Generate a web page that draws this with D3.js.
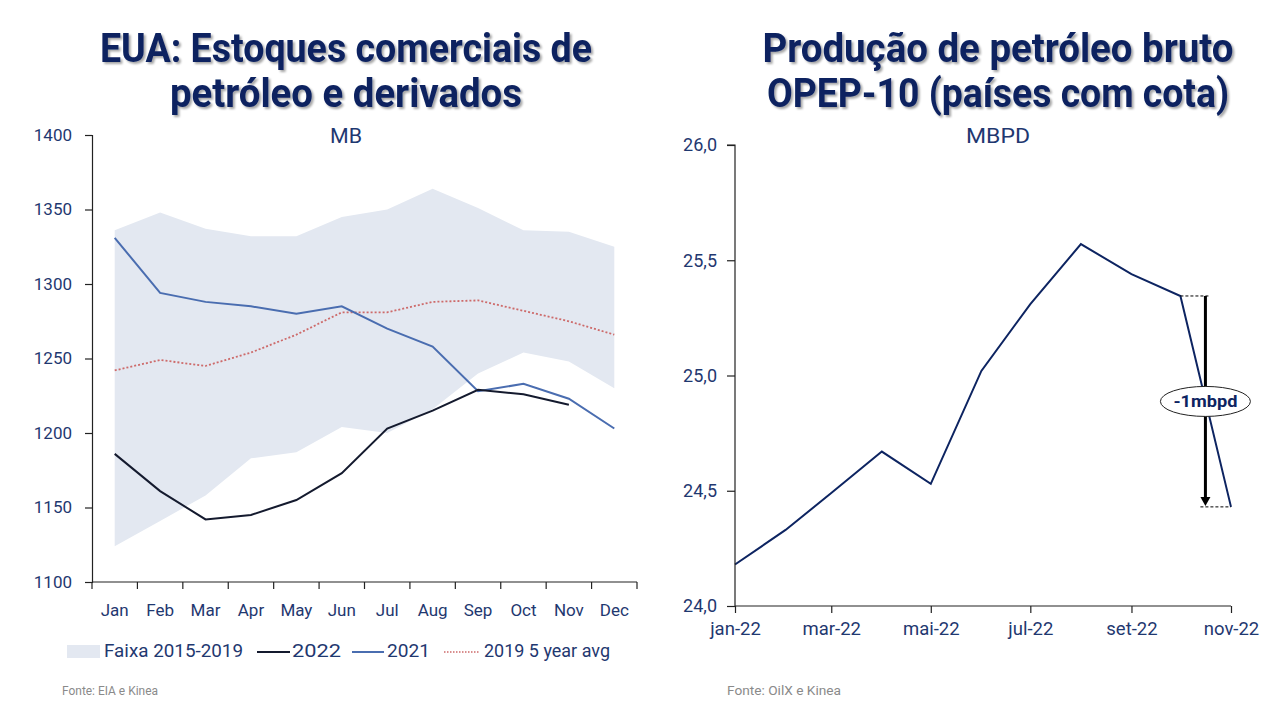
<!DOCTYPE html>
<html><head><meta charset="utf-8">
<script src="https://cdn.jsdelivr.net/npm/d3@7"></script>
<style>
html,body{margin:0;padding:0;background:#fff;}
svg{display:block;font-family:Roboto,"Open Sans",sans-serif;}
</style></head>
<body>
<svg id="c" width="1280" height="720"></svg>
<script>
// ---------- Data: left chart ----------
const months = ["Jan","Feb","Mar","Apr","May","Jun","Jul","Aug","Sep","Oct","Nov","Dec"];
const bandHigh = [1336,1348,1337,1332,1332,1345,1350,1364,1351,1336,1335,1325];
const bandLow  = [1124,1141,1158,1183,1187,1204,1200,1216,1240,1254,1248,1230];
const s2022    = [1186,1161,1142,1145,1155,1173,1203,1215,1229,1226,1219];
const s2021    = [1331,1294,1288,1285,1280,1285,1270,1258,1228,1233,1223,1203];
const avg5y    = [1242,1249,1245,1254,1266,1281,1281,1288,1289,1282,1275,1266];
const leftYTicks = [1100,1150,1200,1250,1300,1350,1400];

// ---------- Data: right chart ----------
const prodDates = ["2022-01","2022-02","2022-03","2022-04","2022-05","2022-06","2022-07","2022-08","2022-09","2022-10","2022-11"];
const prodVals  = [24.18,24.33,24.49,24.67,24.53,25.02,25.31,25.57,25.44,25.345,24.43];
const rightYTicks = [24.0,24.5,25.0,25.5,26.0];
const rightXTicks = ["2022-01","2022-03","2022-05","2022-07","2022-09","2022-11"];
const ptMonths = ["jan","fev","mar","abr","mai","jun","jul","ago","set","out","nov","dez"];

const NAVY = "#0d2461";
const TXT = "#1f3870";
const svg = d3.select("#c");

// shadow filter for titles
const defs = svg.append("defs");
const f = defs.append("filter").attr("id","sh").attr("x","-10%").attr("y","-10%").attr("width","120%").attr("height","140%");
f.append("feDropShadow").attr("dx",2).attr("dy",2).attr("stdDeviation",1.2).attr("flood-color","#000").attr("flood-opacity",0.35);

function title(lines, cx, widths){
  lines.forEach((t,i)=>{
    svg.append("text").attr("x",cx).attr("y",62+i*45).attr("text-anchor","middle")
      .attr("font-size",40).attr("font-weight",700).attr("fill",NAVY)
      .attr("textLength",widths[i]).attr("lengthAdjust","spacingAndGlyphs")
      .attr("filter","url(#sh)").text(t);
  });
}
title(["EUA: Estoques comerciais de","petróleo e derivados"],346,[492,352]);
title(["Produção de petróleo bruto","OPEP-10 (países com cota)"],998,[471,462]);

// ---------- Left chart ----------
const L = {x0:92, x1:637, y0:135, y1:582};
const xb = d3.scaleBand().domain(months).range([L.x0,L.x1]).paddingInner(0).paddingOuter(0);
const xc = m => xb(m)+xb.bandwidth()/2;
const yl = d3.scaleLinear().domain([1100,1400]).range([L.y1,L.y0]);

const gL = svg.append("g");
gL.append("path").datum(months.map((m,i)=>({m,lo:bandLow[i],hi:bandHigh[i]})))
  .attr("fill","#e3e8f1")
  .attr("d",d3.area().x(d=>xc(d.m)).y0(d=>yl(d.lo)).y1(d=>yl(d.hi)));

const line = d3.line().x(d=>xc(d.m)).y(d=>yl(d.v));
const toPts = arr => arr.map((v,i)=>({m:months[i],v}));
gL.append("path").datum(toPts(avg5y)).attr("fill","none").attr("stroke","#cd6a6a")
  .attr("stroke-width",1.8).attr("stroke-dasharray","2,2").attr("d",line);
gL.append("path").datum(toPts(s2021)).attr("fill","none").attr("stroke","#4a6db0")
  .attr("stroke-width",2).attr("d",line);
gL.append("path").datum(toPts(s2022)).attr("fill","none").attr("stroke","#141a2e")
  .attr("stroke-width",2).attr("d",line);

// axes
const axL = gL.append("g").attr("transform",`translate(${L.x0},0)`)
  .call(d3.axisLeft(yl).tickValues(leftYTicks).tickSize(7).tickPadding(13).tickFormat(d3.format("d")));
const axB = gL.append("g").attr("transform",`translate(0,${L.y1})`)
  .call(d3.axisBottom(xb).tickSize(0).tickPadding(22));
// boundary ticks for band axis
gL.append("g").selectAll("line").data(d3.range(13)).join("line")
  .attr("x1",i=>L.x0+i*xb.bandwidth()).attr("x2",i=>L.x0+i*xb.bandwidth())
  .attr("y1",L.y1).attr("y2",L.y1+7).attr("stroke","#222").attr("stroke-width",1.2);
[axL,axB].forEach(a=>{
  a.select(".domain").attr("stroke","#222").attr("stroke-width",1.2);
  a.selectAll(".tick line").attr("stroke","#222").attr("stroke-width",1.2);
  a.selectAll("text").attr("fill",TXT).attr("font-size",17).attr("font-family","Roboto,sans-serif");
});
axB.select(".domain").attr("d",`M${L.x0},0H${L.x1}`);
svg.append("text").attr("x",346).attr("y",143).attr("text-anchor","middle")
  .attr("font-size",21).attr("fill",TXT).attr("textLength",32).attr("lengthAdjust","spacingAndGlyphs").text("MB");

// legend
const lg = svg.append("g").attr("font-size",18).attr("fill",TXT);
function ltext(x,len,t){ lg.append("text").attr("x",x).attr("y",657).attr("textLength",len).attr("lengthAdjust","spacingAndGlyphs").text(t); }
lg.append("rect").attr("x",67).attr("y",645).attr("width",33).attr("height",13).attr("fill","#e3e8f1");
ltext(104,139,"Faixa 2015-2019");
lg.append("line").attr("x1",257).attr("x2",290).attr("y1",652).attr("y2",652).attr("stroke","#141a2e").attr("stroke-width",2);
ltext(292,49,"2022");
lg.append("line").attr("x1",352).attr("x2",384).attr("y1",652).attr("y2",652).attr("stroke","#4a6db0").attr("stroke-width",2);
ltext(387,43,"2021");
lg.append("line").attr("x1",444).attr("x2",480).attr("y1",652).attr("y2",652).attr("stroke","#cd6a6a").attr("stroke-width",1.5).attr("stroke-dasharray","1.5,1.5");
ltext(484,126,"2019 5 year avg");

svg.append("text").attr("x",62).attr("y",695).attr("font-size",12.5).attr("fill","#8a8a8a")
  .attr("textLength",96).attr("lengthAdjust","spacingAndGlyphs").text("Fonte: EIA e Kinea");
svg.append("text").attr("x",727).attr("y",695).attr("font-size",12.5).attr("fill","#8a8a8a")
  .attr("textLength",114).attr("lengthAdjust","spacingAndGlyphs").text("Fonte: OilX e Kinea");

// ---------- Right chart ----------
const R = {x0:735, x1:1231, y0:145, y1:606};
const pd = d3.timeParse("%Y-%m");
const xr = d3.scaleTime().domain([pd(prodDates[0]),pd(prodDates[prodDates.length-1])]).range([R.x0,R.x1]);
const yr = d3.scaleLinear().domain([24,26]).range([R.y1,R.y0]);
const gR = svg.append("g");
const pts = prodDates.map((d,i)=>({d:pd(d),v:prodVals[i]}));
gR.append("path").datum(pts).attr("fill","none").attr("stroke",NAVY).attr("stroke-width",2)
  .attr("d",d3.line().x(d=>xr(d.d)).y(d=>yr(d.v)));

const axRL = gR.append("g").attr("transform",`translate(${R.x0},0)`)
  .call(d3.axisLeft(yr).tickValues(rightYTicks).tickSize(8).tickPadding(10)
    .tickFormat(d=>d3.format(".1f")(d).replace(".",",")));
const axRB = gR.append("g").attr("transform",`translate(0,${R.y1})`)
  .call(d3.axisBottom(xr).tickValues(rightXTicks.map(pd)).tickSize(7).tickPadding(9)
    .tickFormat(d=>ptMonths[d.getMonth()]+"-"+d3.timeFormat("%y")(d)));
[axRL,axRB].forEach(a=>{
  a.select(".domain").attr("stroke","#222").attr("stroke-width",1.2);
  a.selectAll(".tick line").attr("stroke","#222").attr("stroke-width",1.2);
  a.selectAll("text").attr("fill",TXT).attr("font-size",17).attr("font-family","Roboto,sans-serif");
});
axRB.selectAll("text").attr("font-size",18.5);
axRL.selectAll("text").attr("font-size",18);
axRL.select(".domain").attr("d",`M0,${R.y1}V${R.y0}H-8`);
axRB.select(".domain").attr("d",`M${R.x0},0H${R.x1}`);
svg.append("text").attr("x",998).attr("y",143).attr("text-anchor","middle")
  .attr("font-size",21).attr("fill",TXT).attr("textLength",64).attr("lengthAdjust","spacingAndGlyphs").text("MBPD");

// annotation
const pOct = pts[9], pNov = pts[10];
const ax = xr(pOct.d) + 25;
const yTop = yr(pOct.v), yBot = yr(pNov.v);
gR.append("line").attr("x1",xr(pOct.d)).attr("x2",ax+5).attr("y1",yTop).attr("y2",yTop)
  .attr("stroke","#000").attr("stroke-width",1).attr("stroke-dasharray","3,2");
gR.append("line").attr("x1",ax-5).attr("x2",xr(pNov.d)).attr("y1",yBot).attr("y2",yBot)
  .attr("stroke","#000").attr("stroke-width",1).attr("stroke-dasharray","3,2");
gR.append("line").attr("x1",ax).attr("x2",ax).attr("y1",yTop).attr("y2",yBot-9)
  .attr("stroke","#000").attr("stroke-width",3);
gR.append("path").attr("d",`M${ax-5},${yBot-10}L${ax+5},${yBot-10}L${ax},${yBot-1}Z`).attr("fill","#000");
const ey = (yTop+yBot)/2;
gR.append("ellipse").attr("cx",ax).attr("cy",ey).attr("rx",45).attr("ry",15)
  .attr("fill","#fff").attr("stroke","#222").attr("stroke-width",1);
gR.append("text").attr("x",ax).attr("y",ey+6).attr("text-anchor","middle")
  .attr("font-size",17).attr("font-weight",700).attr("fill",NAVY)
  .attr("textLength",64).attr("lengthAdjust","spacingAndGlyphs").text("-1mbpd");
</script>
</body></html>
